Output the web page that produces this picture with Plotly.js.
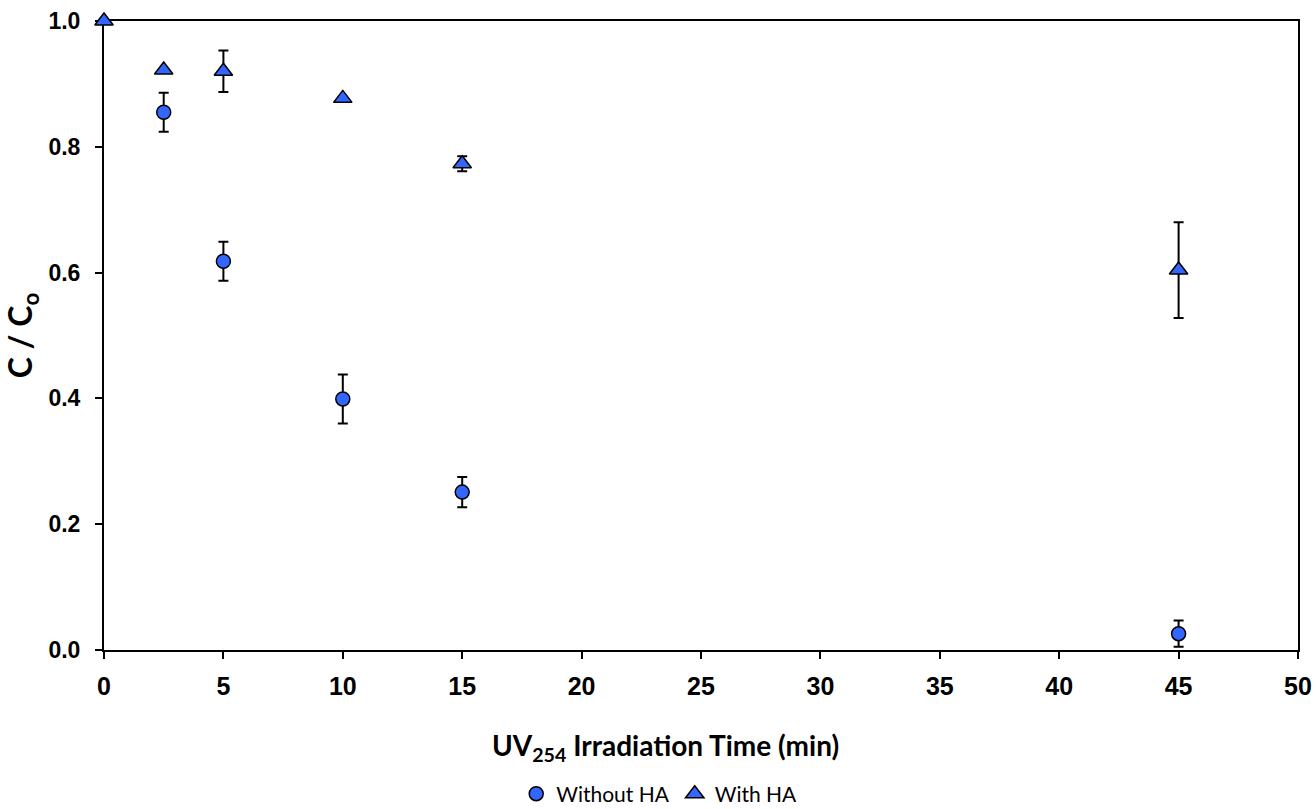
<!DOCTYPE html>
<html>
<head>
<meta charset="utf-8">
<script src="https://cdn.plot.ly/plotly-3.0.1.min.js"></script>
<style>html,body{margin:0;padding:0;background:#fff;}#chart{width:1316px;height:809px;}</style>
</head>
<body>
<div id="chart"></div>
<script>
// Data
const timeWithout = [2.5, 5, 10, 15, 45];
const ratioWithout = [0.855, 0.618, 0.399, 0.251, 0.026];
const errWithout = [0.031, 0.031, 0.039, 0.024, 0.021];

const timeWith = [0, 2.5, 5, 10, 15, 45];
const ratioWith = [1.0, 0.922, 0.920, 0.877, 0.773, 0.604];
const errWith = [0, 0, 0.033, 0, 0.012, 0.076];

const seriesNames = ["Without HA", "With HA"];
const xTitle = "UV<sub>254</sub> Irradiation Time (min)";
const yTitle = "C / C<sub>o</sub>";

const blue = "#3366FF";
const errStyle = {type: "data", visible: true, color: "#000", thickness: 2, width: 5};

const traces = [
  {
    x: timeWithout, y: ratioWithout, name: seriesNames[0], type: "scatter", mode: "markers",
    cliponaxis: false,
    marker: {symbol: "circle", size: 14, color: blue, line: {color: "#000", width: 1.5}},
    error_y: Object.assign({array: errWithout}, errStyle)
  },
  {
    x: timeWith, y: ratioWith, name: seriesNames[1], type: "scatter", mode: "markers",
    cliponaxis: false,
    marker: {symbol: "triangle-up", size: 16, color: blue, line: {color: "#000", width: 1.5}},
    error_y: Object.assign({array: errWith}, errStyle)
  }
];

const tickFont = {family: "Liberation Sans, Arial, sans-serif", weight: "bold", color: "#000"};
const titleFont = {family: "Lato, 'Open Sans', sans-serif", weight: "bold", color: "#000"};

const layout = {
  width: 1316, height: 809,
  paper_bgcolor: "#fff", plot_bgcolor: "#fff",
  margin: {l: 104, r: 18, t: 21, b: 159, autoexpand: false},
  showlegend: true,
  legend: {
    orientation: "h", x: 0.465, xanchor: "center", y: -0.229, yanchor: "middle",
    font: {family: "Lato, 'Open Sans', sans-serif", size: 21, color: "#000"},
    itemwidth: 30, tracegroupgap: 0, borderwidth: 0
  },
  annotations: [{
    text: xTitle, xref: "paper", yref: "paper", x: 0.47, y: -0.154,
    xanchor: "center", yanchor: "middle", showarrow: false,
    font: Object.assign({size: 28}, titleFont)
  }],
  xaxis: {
    range: [0, 50], dtick: 5, tick0: 0,
    showgrid: false, zeroline: false,
    showline: true, linecolor: "#000", linewidth: 2, mirror: true,
    ticks: "outside", ticklen: 7, tickwidth: 2, tickcolor: "#000",
    tickfont: Object.assign({size: 25}, tickFont),
    ticklabelstandoff: 6,
    layer: "below traces"
  },
  yaxis: {
    range: [0, 1], dtick: 0.2, tick0: 0, tickformat: ".1f",
    showgrid: false, zeroline: false,
    showline: true, linecolor: "#000", linewidth: 2, mirror: true,
    ticks: "outside", ticklen: 7, tickwidth: 2, tickcolor: "#000",
    tickfont: Object.assign({size: 23}, tickFont),
    ticklabelstandoff: 10,
    layer: "below traces",
    title: {text: yTitle, font: Object.assign({size: 32}, titleFont), standoff: 8}
  }
};

Plotly.newPlot("chart", traces, layout, {staticPlot: true, displayModeBar: false});
</script>
</body>
</html>
